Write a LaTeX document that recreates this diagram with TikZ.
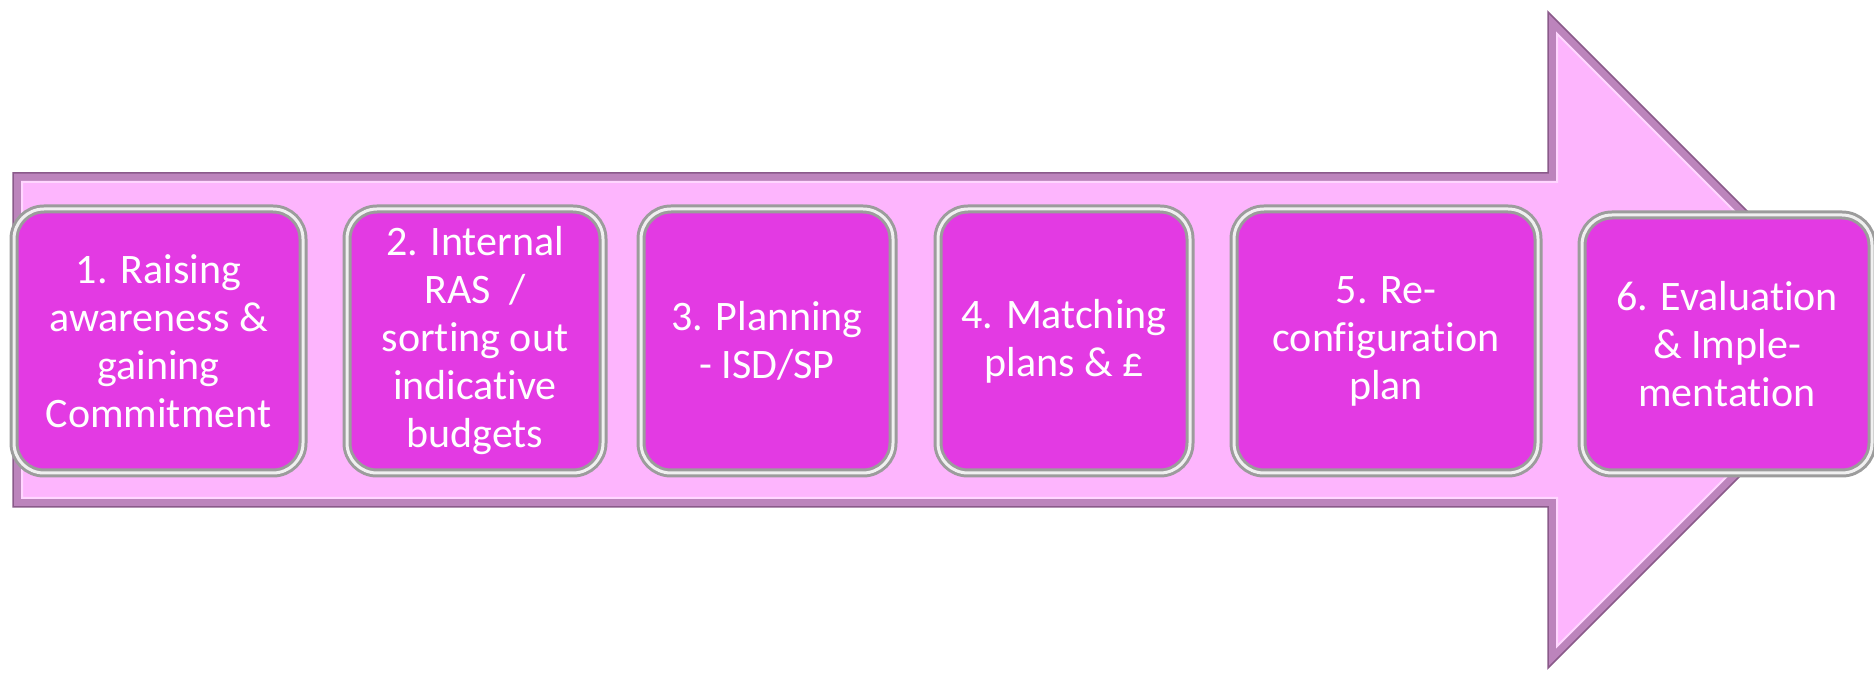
\documentclass[tikz,border=0pt]{standalone}
\usepackage{fontspec}
\setmainfont[Ligatures=NoCommon]{Carlito}
\definecolor{arrowfill}{HTML}{FDB5FD}
\definecolor{arrowband}{HTML}{BC84BC}
\definecolor{arrowdark}{HTML}{8A5A8A}
\definecolor{arrowhi}{HTML}{FFD6FF}
\definecolor{boxfill}{HTML}{E33AE3}
\definecolor{silver}{HTML}{9C9C9C}
\definecolor{silverhi}{HTML}{F0F0F0}
\tikzset{
  stepbox/.style={rectangle, rounded corners=30pt, minimum height=264pt,
    inner sep=0pt, fill=boxfill, draw=silver, line width=9pt,
    text=white, align=center, font=\fontsize{42}{48}\selectfont,
    postaction={draw=silverhi, line width=3pt}},
}
\begin{document}
\begin{tikzpicture}[x=1pt,y=1pt]
\useasboundingbox (0,0) rectangle (1874,672);
% arrow outer (bevel band)
\filldraw[fill=arrowband, draw=arrowdark, line width=1.5pt, line join=miter]
  (13,499) -- (1548,499) -- (1548,660) -- (1876,332) -- (1548,4) -- (1548,165) -- (13,165) -- cycle;
% arrow inner
\filldraw[fill=arrowfill, draw=arrowhi, line width=2pt, line join=miter]
  (22,490) -- (1557,490) -- (1557,638.3) -- (1863.3,332) -- (1557,25.7) -- (1557,174) -- (22,174) -- cycle;
% step boxes
\node[stepbox, minimum width=289pt] (b1) at (158.5,331) {1. Raising\\awareness \&\\gaining\\Commitment};
\node[stepbox, minimum width=256pt] (b2) at (475,331) {2. Internal\\RAS~ /\\sorting out\\indicative\\budgets};
\node[stepbox, minimum width=252pt] (b3) at (767,331) {3. Planning\\- ISD/SP};
\node[stepbox, minimum width=252pt] (b4) at (1064,331) {4. Matching\\plans \& £};
\node[stepbox, minimum width=304pt] (b5) at (1386,331) {5. Re-\\configuration\\plan};
\node[stepbox, minimum width=290pt, minimum height=258pt] (b6) at (1727,328) {6. Evaluation\\\& Imple-\\mentation};
\end{tikzpicture}
\end{document}
